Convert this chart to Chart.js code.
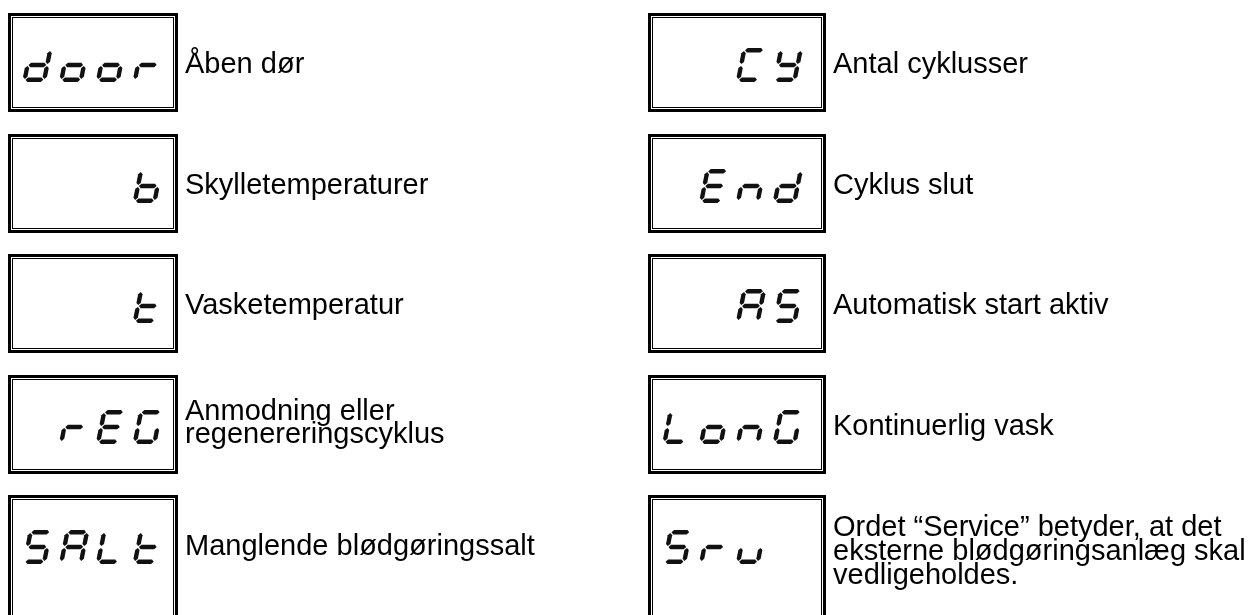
<!DOCTYPE html>
<html>
<head>
<meta charset="utf-8">
<script src="https://cdn.jsdelivr.net/npm/chart.js@4.4.0/dist/chart.umd.min.js"></script>
<style>
html,body{margin:0;padding:0;background:#fff;}
#wrap{position:absolute;left:0;top:0;width:1254px;height:615px;}
</style>
</head>
<body>
<div id="wrap"><canvas id="c" width="1254" height="615"></canvas></div>
<script>
// ---- data ----
const codes = ['door', '   b', '   t', ' rEG', 'SALt', '  CY', ' End', '  AS', 'LonG', 'Sru '];
const descriptions = [
  ['Åben dør'],
  ['Skylletemperaturer'],
  ['Vasketemperatur'],
  ['Anmodning eller', 'regenereringscyklus'],
  ['Manglende blødgøringssalt'],
  ['Antal cyklusser'],
  ['Cyklus slut'],
  ['Automatisk start aktiv'],
  ['Kontinuerlig vask'],
  ['Ordet “Service” betyder, at det', 'eksterne blødgøringsanlæg skal', 'vedligeholdes.']
];
const columns = [0, 0, 0, 0, 0, 1, 1, 1, 1, 1];
const rows = [0, 1, 2, 3, 4, 0, 1, 2, 3, 4];

// seven-segment map
const SEG = {
  'd': 'bcdeg', 'o': 'cdeg', 'r': 'eg', 'C': 'adef', 'Y': 'bcdfg', 'b': 'cdefg',
  'E': 'adefg', 'n': 'ceg', 't': 'defg', 'A': 'abcefg', 'S': 'acdfg', 'G': 'acdef',
  'L': 'def', 'u': 'cde'
};

function drawGlyph(ctx, ch, x0, yb) {
  const segs = SEG[ch];
  if (!segs) return;
  const W = 24, H = 34, T = 4.4, gap = 0.9, sl = 0.2;
  const P = (u, v) => [x0 + u + v * sl, yb - v];
  function hseg(c) {
    const u1 = T / 2 + gap, u2 = W - T / 2 - gap, h = T / 2;
    return [P(u1, c), P(u1 + h, c + h), P(u2 - h, c + h), P(u2, c), P(u2 - h, c - h), P(u1 + h, c - h)];
  }
  function vseg(c, v1, v2) {
    v1 += gap; v2 -= gap; const h = T / 2;
    return [P(c, v1), P(c + h, v1 + h), P(c + h, v2 - h), P(c, v2), P(c - h, v2 - h), P(c - h, v1 + h)];
  }
  const defs = {
    a: hseg(H - T / 2), g: hseg(H / 2), d: hseg(T / 2),
    f: vseg(T / 2, H / 2, H - T / 2), e: vseg(T / 2, T / 2, H / 2),
    b: vseg(W - T / 2, H / 2, H - T / 2), c: vseg(W - T / 2, T / 2, H / 2)
  };
  ctx.fillStyle = '#111';
  for (const s of segs) {
    const pts = defs[s];
    ctx.beginPath();
    ctx.moveTo(pts[0][0], pts[0][1]);
    for (let i = 1; i < pts.length; i++) ctx.lineTo(pts[i][0], pts[i][1]);
    ctx.closePath();
    ctx.fill();
  }
}

const panelPlugin = {
  id: 'panels',
  afterDatasetsDraw(chart) {
    const ctx = chart.ctx;
    const meta = chart.getDatasetMeta(0);
    const boxW = [170, 178];
    ctx.save();
    meta.data.forEach((el, i) => {
      const x = Math.round(el.x), y = Math.round(el.y);
      const col = columns[i];
      const w = boxW[col];
      const h = rows[i] === 4 ? 160 : 99;
      // double border
      ctx.strokeStyle = '#000';
      ctx.lineWidth = 3;
      ctx.strokeRect(x + 1.5, y + 1.5, w - 3, h - 3);
      ctx.lineWidth = 1;
      ctx.strokeRect(x + 4.5, y + 4.5, w - 9, h - 9);
      // seven-segment code
      const code = codes[i];
      for (let k = 0; k < code.length; k++) {
        drawGlyph(ctx, code[k], x + 14 + k * 36.8, y + 69);
      }
      // description
      ctx.fillStyle = '#000';
      ctx.font = '29px "Liberation Sans", Arial, sans-serif';
      ctx.textBaseline = 'alphabetic';
      ctx.textAlign = 'left';
      const lines = descriptions[i];
      const offs = lines.length === 1 ? [60] : lines.length === 2 ? [45, 68] : [41, 65, 89];
      lines.forEach((t, j) => ctx.fillText(t, x + w + 7, y + offs[j]));
    });
    ctx.restore();
  }
};

const points = rows.map((r, i) => ({ x: columns[i], y: r }));

new Chart(document.getElementById('c'), {
  type: 'scatter',
  data: { datasets: [{ data: points, pointRadius: 0, pointHoverRadius: 0 }] },
  options: {
    responsive: false,
    animation: false,
    devicePixelRatio: 1,
    layout: { padding: 0 },
    plugins: { legend: { display: false }, tooltip: { enabled: false } },
    scales: {
      x: { type: 'linear', display: false, min: -8 / 640, max: -8 / 640 + 1254 / 640 },
      y: { type: 'linear', display: false, reverse: true, min: -13 / 120.5, max: -13 / 120.5 + 615 / 120.5 }
    }
  },
  plugins: [panelPlugin]
});
</script>
</body>
</html>
